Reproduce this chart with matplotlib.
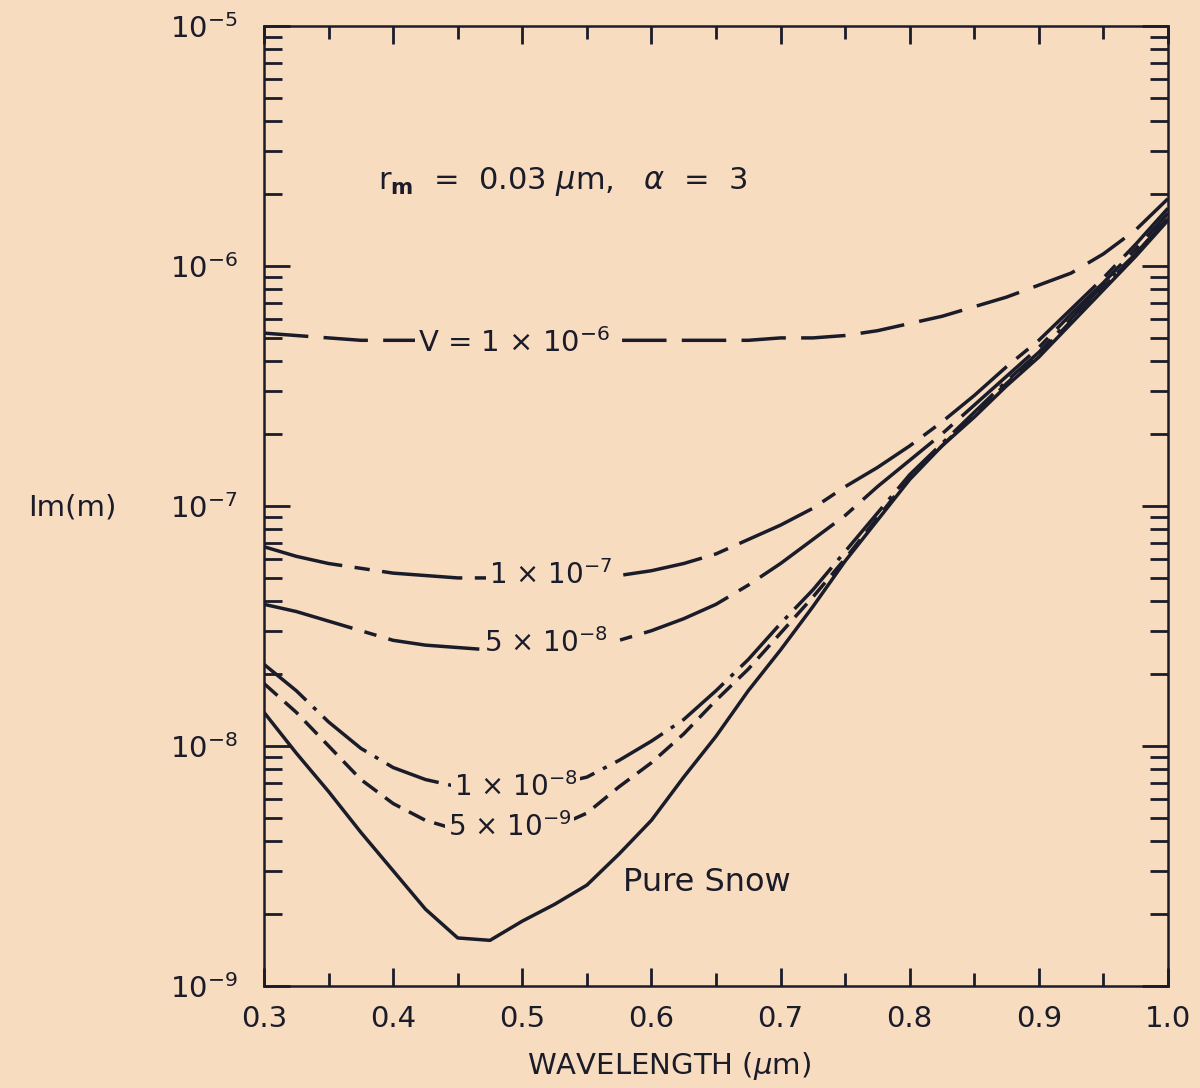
import numpy as np
import matplotlib.pyplot as plt
from matplotlib.ticker import LogLocator, NullFormatter, MultipleLocator

plt.rcParams['font.family'] = ['DejaVu Sans']
plt.rcParams['lines.scale_dashes'] = False

# wavelength grid (um) and log10 Im(m)
wavelength = [0.300, 0.325, 0.350, 0.375, 0.400, 0.425, 0.450, 0.475, 0.500, 0.525,
              0.550, 0.575, 0.600, 0.625, 0.650, 0.675, 0.700, 0.725, 0.750, 0.775,
              0.800, 0.825, 0.850, 0.875, 0.900, 0.925, 0.950, 0.975, 1.000]

log_v1e6 = [-6.28, -6.29, -6.30, -6.31, -6.31, -6.31, -6.31, -6.31, -6.31, -6.31,
            -6.31, -6.31, -6.31, -6.31, -6.31, -6.31, -6.30, -6.30, -6.29, -6.27,
            -6.24, -6.21, -6.17, -6.13, -6.08, -6.03, -5.95, -5.85, -5.72]
log_v1e7 = [-7.17, -7.21, -7.24, -7.26, -7.28, -7.29, -7.30, -7.30, -7.30, -7.30,
            -7.30, -7.29, -7.27, -7.24, -7.20, -7.14, -7.08, -7.01, -6.92, -6.84,
            -6.75, -6.65, -6.54, -6.42, -6.31, -6.18, -6.05, -5.91, -5.76]
log_v5e8 = [-7.41, -7.44, -7.48, -7.52, -7.56, -7.58, -7.59, -7.60, -7.60, -7.60,
            -7.59, -7.56, -7.52, -7.47, -7.41, -7.33, -7.24, -7.14, -7.04, -6.92,
            -6.81, -6.70, -6.58, -6.46, -6.34, -6.20, -6.07, -5.93, -5.78]
log_v1e8 = [-7.66, -7.77, -7.90, -8.01, -8.09, -8.14, -8.17, -8.18, -8.18, -8.16,
            -8.13, -8.06, -7.98, -7.89, -7.77, -7.64, -7.49, -7.35, -7.19, -7.03,
            -6.87, -6.74, -6.61, -6.48, -6.36, -6.22, -6.08, -5.95, -5.80]
log_v5e9 = [-7.74, -7.86, -8.00, -8.14, -8.24, -8.31, -8.35, -8.37, -8.37, -8.34,
            -8.28, -8.17, -8.07, -7.95, -7.81, -7.68, -7.53, -7.38, -7.22, -7.05,
            -6.88, -6.75, -6.62, -6.49, -6.37, -6.23, -6.09, -5.95, -5.80]
log_snow = [-7.86, -8.03, -8.19, -8.36, -8.52, -8.68, -8.80, -8.81, -8.73, -8.66,
            -8.58, -8.45, -8.31, -8.13, -7.96, -7.77, -7.60, -7.42, -7.23, -7.06,
            -6.89, -6.75, -6.63, -6.50, -6.38, -6.24, -6.10, -5.96, -5.81]

curve_labels = ['V = 1 × 10$^{-6}$', '1 × 10$^{-7}$', '5 × 10$^{-8}$',
                '1 × 10$^{-8}$', '5 × 10$^{-9}$', 'Pure Snow']
# label centres (wavelength, log10 Im(m))
label_pos = [(0.494, -6.32), (0.522, -7.29), (0.518, -7.57),
             (0.495, -8.17), (0.49, -8.34), (0.643, -8.57)]
label_size = [21, 20, 20, 20, 20, 23]

bg = '#f8dcc0'
ink = '#1b1c2a'

fig = plt.figure(figsize=(12, 10.88), dpi=100, facecolor=bg)
ax = fig.add_axes([0.22, 0.0938, 0.7533, 0.8824])
ax.set_facecolor(bg)

w = np.array(wavelength)
styles = [
    (0, (32, 11)),
    (0, (58, 9, 11, 9)),
    (0, (66, 9, 9, 9)),
    (0, (40, 7, 3, 7)),
    (0, (13, 7)),
    '-',
]
series = [log_v1e6, log_v1e7, log_v5e8, log_v1e8, log_v5e9, log_snow]
for s, ls in zip(series, styles):
    ax.plot(w, 10 ** np.array(s), color=ink, lw=2.5, linestyle=ls)

for txt, (x, ly), fs in zip(curve_labels, label_pos, label_size):
    ax.text(x, 10 ** ly, txt, fontsize=fs, color=ink, ha='center', va='center',
            bbox=dict(facecolor=bg, edgecolor='none', pad=2))

ax.text(0.531, 10 ** -5.65, r'r$_\mathbf{m}$  =  0.03 $\mu$m,   $\alpha$  =  3',
        fontsize=22, color=ink, ha='center', va='center')

ax.set_yscale('log')
ax.set_xlim(0.3, 1.0)
ax.set_ylim(1e-9, 1e-5)

ax.xaxis.set_major_locator(MultipleLocator(0.1))
ax.xaxis.set_minor_locator(MultipleLocator(0.05))
ax.set_xticks(np.arange(0.3, 1.01, 0.1))
ax.set_xticklabels([f'{v:.1f}' for v in np.arange(0.3, 1.01, 0.1)])
ax.yaxis.set_major_locator(LogLocator(base=10, numticks=10))
ax.yaxis.set_minor_locator(LogLocator(base=10, subs=np.arange(2, 10), numticks=10))
ax.yaxis.set_minor_formatter(NullFormatter())

ax.tick_params(which='both', direction='in', top=True, right=True, colors=ink,
               width=2, labelsize=21)
ax.tick_params(axis='x', which='major', length=13, pad=14)
ax.tick_params(axis='x', which='minor', length=9.5)
ax.tick_params(axis='y', which='major', length=19, pad=19)
ax.tick_params(axis='y', which='minor', length=13)
for sp in ax.spines.values():
    sp.set_linewidth(1.8)
    sp.set_color(ink)

fig.text(669 / 1200, 1 - 1066 / 1088, 'WAVELENGTH ($\\mu$m)', fontsize=21,
         color=ink, ha='center', va='center')
fig.text(0.06, 0.534, 'Im(m)', fontsize=21, color=ink, ha='center', va='center')

fig.savefig('out.png', dpi=100, facecolor=bg)
